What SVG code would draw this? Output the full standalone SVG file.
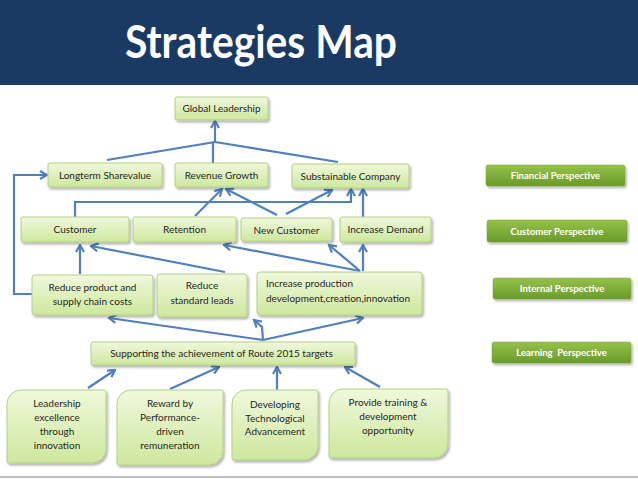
<svg xmlns="http://www.w3.org/2000/svg" width="638" height="479" viewBox="0 0 638 479">
<defs>
<linearGradient id="gBox" x1="0" y1="0" x2="0" y2="1">
<stop offset="0" stop-color="#f0f8dc"/>
<stop offset="1" stop-color="#cde89d"/>
</linearGradient>
<linearGradient id="gPer" x1="0" y1="0" x2="0" y2="1">
<stop offset="0" stop-color="#96c24a"/>
<stop offset="1" stop-color="#6a9a2b"/>
</linearGradient>
<filter id="sh" x="-10%" y="-20%" width="130%" height="160%">
<feDropShadow dx="1.5" dy="2" stdDeviation="1.2" flood-color="#000" flood-opacity="0.3"/>
</filter>
<marker id="arr" viewBox="0 0 10 10" refX="8.5" refY="5" markerWidth="10" markerHeight="10" markerUnits="userSpaceOnUse" orient="auto">
<path d="M1.5,1 L8.5,5 L1.5,9" fill="none" stroke="#4f7fbd" stroke-width="2.2" stroke-linejoin="miter"/>
</marker>
</defs>
<style>
.box{fill:url(#gBox);stroke:#b2cf84;stroke-width:1;filter:url(#sh)}
.per{fill:url(#gPer);stroke:#79a336;stroke-width:0.5;filter:url(#sh)}
.t{font-family:Lato,"Open Sans",sans-serif;font-size:10px;fill:#262626;text-anchor:middle}
.tl{font-family:Lato,"Open Sans",sans-serif;font-size:10px;fill:#262626}
.pt{font-family:Lato,"Open Sans",sans-serif;font-size:9.5px;font-weight:bold;fill:#fff;text-anchor:middle}
.c{fill:none;stroke:#4f7fbd;stroke-width:2.2}
.a{marker-end:url(#arr)}
</style>
<rect width="638" height="479" fill="#fff"/>
<g id="header">
<rect x="0" y="0" width="638" height="85" fill="#1a3a63"/>
<text x="261" y="58" font-family="Lato,'Open Sans',sans-serif" font-size="46" font-weight="bold" fill="#fff" text-anchor="middle" textLength="272" lengthAdjust="spacingAndGlyphs">Strategies Map</text>
</g>
<line x1="0" y1="477" x2="638" y2="477" stroke="#bdbdbd" stroke-width="2"/>

<g id="connectors">
<polyline class="c" points="107,160 215,142"/>
<polyline class="c" points="213,163 213,142"/>
<polyline class="c" points="338,162 215,142"/>
<polyline class="c a" points="215,143 215,121"/>
<polyline class="c a" points="32,294 14,294 14,175 47,175"/>
<polyline class="c a" points="75,217 75,202 351,202 351,189"/>
<polyline class="c a" points="363,217 363,189"/>
<polyline class="c a" points="195,216 222,189"/>
<polyline class="c a" points="277,215 226,189"/>
<polyline class="c a" points="286,214 332,190"/>
<polyline class="c a" points="80,274 80,245"/>
<polyline class="c a" points="225,272 91,246"/>
<polyline class="c a" points="360,271 224,245"/>
<polyline class="c a" points="360,271 329,245"/>
<polyline class="c a" points="363,271 363,245"/>
<polyline class="c a" points="263,340 109,318"/>
<polyline class="c a" points="263,340 262,327 254,320"/>
<polyline class="c a" points="263,340 363,318"/>
<polyline class="c a" points="88,388 115,370"/>
<polyline class="c a" points="170,389 219,367"/>
<polyline class="c a" points="277,390 277,367"/>
<polyline class="c a" points="380,387 345,367"/>
</g>

<g id="global-leadership">
<rect class="box" x="175" y="97" width="93" height="23" rx="2"/>
<text class="t" x="221.5" y="112">Global Leadership</text>
</g>
<g id="longterm-sharevalue">
<rect class="box" x="48" y="163" width="114" height="24" rx="2"/>
<text class="t" x="105" y="179">Longterm Sharevalue</text>
</g>
<g id="revenue-growth">
<rect class="box" x="175" y="163" width="93" height="24" rx="2"/>
<text class="t" x="221.5" y="179">Revenue Growth</text>
</g>
<g id="substainable-company">
<rect class="box" x="292" y="164" width="117" height="24" rx="2"/>
<text class="t" x="350.5" y="180">Substainable Company</text>
</g>
<g id="customer">
<rect class="box" x="21" y="217" width="108" height="25" rx="2"/>
<text class="t" x="75" y="233">Customer</text>
</g>
<g id="retention">
<rect class="box" x="133" y="217" width="103" height="25" rx="2"/>
<text class="t" x="184.5" y="233">Retention</text>
</g>
<g id="new-customer">
<rect class="box" x="241" y="218" width="91" height="23" rx="2"/>
<text class="t" x="286.5" y="234">New Customer</text>
</g>
<g id="increase-demand">
<rect class="box" x="340" y="217" width="91" height="25" rx="2"/>
<text class="t" x="385.5" y="233">Increase Demand</text>
</g>
<g id="reduce-product">
<rect class="box" x="32" y="275" width="121" height="40" rx="3"/>
<text class="t" x="92.5" y="291">Reduce product and</text>
<text class="t" x="92.5" y="305">supply chain costs</text>
</g>
<g id="reduce-standard">
<rect class="box" x="157" y="274" width="90" height="43" rx="3"/>
<text class="t" x="202" y="289">Reduce</text>
<text class="t" x="202" y="304">standard leads</text>
</g>
<g id="increase-production">
<rect class="box" x="257" y="272" width="165" height="43" rx="3"/>
<text class="tl" x="266" y="287">Increase production</text>
<text class="tl" x="266" y="302">development,creation,innovation</text>
</g>
<g id="supporting">
<rect class="box" x="91" y="342" width="264" height="23" rx="2"/>
<text class="t" x="221.5" y="357">Supporting the achievement of Route 2015 targets</text>
</g>
<g id="leadership-excellence">
<path class="box" d="M21,390 H104 Q106,390 106,392 V449 A14 14 0 0 1 92,463 H9 Q7,463 7,461 V404 A14 14 0 0 1 21,390 Z"/>
<text class="t" x="57" y="407">Leadership</text>
<text class="t" x="57" y="421">excellence</text>
<text class="t" x="57" y="435">through</text>
<text class="t" x="57" y="449">innovation</text>
</g>
<g id="reward">
<path class="box" d="M131,390 H221 Q223,390 223,392 V451 A14 14 0 0 1 209,465 H119 Q117,465 117,463 V404 A14 14 0 0 1 131,390 Z"/>
<text class="t" x="170" y="407">Reward by</text>
<text class="t" x="170" y="421">Performance-</text>
<text class="t" x="170" y="435">driven</text>
<text class="t" x="170" y="449">remuneration</text>
</g>
<g id="developing">
<path class="box" d="M246,390 H316 Q318,390 318,392 V446 A14 14 0 0 1 304,460 H234 Q232,460 232,458 V404 A14 14 0 0 1 246,390 Z"/>
<text class="t" x="275" y="408">Developing</text>
<text class="t" x="275" y="422">Technological</text>
<text class="t" x="275" y="435">Advancement</text>
</g>
<g id="provide-training">
<path class="box" d="M343,389 H446 Q448,389 448,391 V444 A14 14 0 0 1 434,458 H331 Q329,458 329,456 V403 A14 14 0 0 1 343,389 Z"/>
<text class="t" x="388" y="406">Provide training &amp;</text>
<text class="t" x="388" y="420">development</text>
<text class="t" x="388" y="434">opportunity</text>
</g>

<g id="financial-perspective">
<rect class="per" x="486" y="165" width="139" height="21" rx="2"/>
<text class="pt" x="555.5" y="179">Financial Perspective</text>
</g>
<g id="customer-perspective">
<rect class="per" x="487" y="220" width="140" height="22" rx="2"/>
<text class="pt" x="557" y="234.5">Customer Perspective</text>
</g>
<g id="internal-perspective">
<rect class="per" x="493" y="278" width="138" height="21" rx="2"/>
<text class="pt" x="562" y="292">Internal Perspective</text>
</g>
<g id="learning-perspective">
<rect class="per" x="492" y="342" width="139" height="21" rx="2"/>
<text class="pt" x="561.5" y="356" xml:space="preserve">Learning  Perspective</text>
</g>
</svg>
